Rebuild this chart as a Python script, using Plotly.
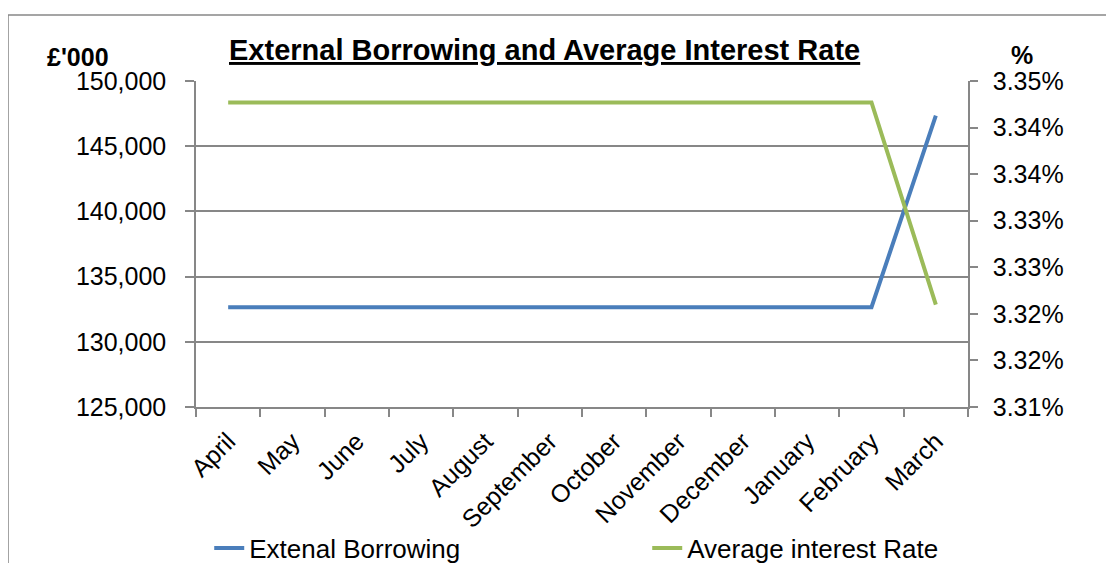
import plotly.graph_objects as go

months = ["April", "May", "June", "July", "August", "September", "October",
          "November", "December", "January", "February", "March"]
borrowing = [132650, 132650, 132650, 132650, 132650, 132650, 132650,
             132650, 132650, 132650, 132650, 147340]
interest_rate = [3.3467, 3.3467, 3.3467, 3.3467, 3.3467, 3.3467, 3.3467,
                 3.3467, 3.3467, 3.3467, 3.3467, 3.3250]

FONT = "Liberation Sans, Arial, sans-serif"
GRID = "#878787"
FS = 25

fig = go.Figure()
fig.add_trace(go.Scatter(x=months, y=borrowing, name="Extenal Borrowing",
                         mode="lines", line=dict(color="#4A7EBB", width=4)))
fig.add_trace(go.Scatter(x=months, y=interest_rate, name="Average interest Rate",
                         mode="lines", line=dict(color="#9BBB59", width=4),
                         yaxis="y2"))

# the page is drawn with an 8px body offset, so margins are shifted by 8px
fig.update_layout(
    width=1114, height=563,
    margin=dict(l=188, r=154, t=73, b=164, autoexpand=False),
    paper_bgcolor="white", plot_bgcolor="white",
    font=dict(family=FONT, size=FS, color="black"),
    showlegend=True,
    legend=dict(orientation="h", x=-0.001, y=-0.4325, xanchor="left", yanchor="middle",
                entrywidth=379, indentation=14, font=dict(size=26),
                bgcolor="rgba(0,0,0,0)", tracegroupgap=0),
    xaxis=dict(type="category", tickson="boundaries", ticks="outside", ticklen=8,
               tickcolor=GRID, tickwidth=1.5, showline=True, linecolor=GRID,
               linewidth=1.5, showgrid=False, tickangle=-45, ticklabelstandoff=8,
               tickfont=dict(size=FS, family=FONT), range=[-0.5, 11.5]),
    yaxis=dict(range=[125000, 150000], dtick=5000, tickformat=",d",
               showgrid=True, gridcolor=GRID, gridwidth=1.5, zeroline=False,
               showline=True, linecolor=GRID, linewidth=1.5, ticks="outside",
               ticklen=9, tickcolor=GRID, tickwidth=1.5, ticklabelstandoff=14,
               tickfont=dict(size=FS, family=FONT)),
    yaxis2=dict(overlaying="y", side="right", range=[3.314, 3.349],
                tick0=3.314, dtick=0.005, tickformat=".2f", ticksuffix="%",
                showgrid=False, zeroline=False, showline=True, linecolor=GRID,
                linewidth=1.5, ticks="outside", ticklen=8, tickcolor=GRID,
                tickwidth=1.5, ticklabelstandoff=10,
                tickfont=dict(size=FS, family=FONT)),
    shapes=[dict(type="rect", xref="paper", yref="paper",
                 x0=-0.2435, x1=1.4, y0=-0.7, y1=1.2025,
                 line=dict(color="#888888", width=1.5), layer="below")],
    annotations=[
        dict(text="<b><u>External Borrowing and Average Interest Rate</u></b>",
             xref="paper", yref="paper", x=0.451, y=1.095, xanchor="center",
             yanchor="middle", showarrow=False, font=dict(size=29, family=FONT)),
        dict(text="<b>£'000</b>", xref="paper", yref="paper", x=-0.1956, y=1.074,
             xanchor="left", yanchor="middle", showarrow=False,
             font=dict(size=25, family=FONT)),
        dict(text="<b>%</b>", xref="paper", yref="paper", x=1.07, y=1.08,
             xanchor="center", yanchor="middle", showarrow=False,
             font=dict(size=25, family=FONT)),
    ],
)

fig.write_html("out.html")
